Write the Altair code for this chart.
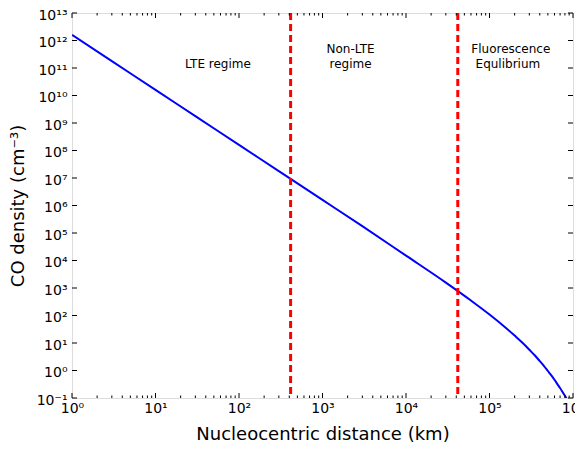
import altair as alt
import pandas as pd

# Data
dist_km = [1, 3, 10, 30, 100, 300, 1000, 3000, 10000, 30000, 60000, 100000,
           150000, 200000, 250000, 300000, 350000, 400000, 450000, 500000,
           550000, 600000, 650000, 700000, 750000, 800000, 840000]
co_density = [1.6e12, 1.78e11, 1.6e10, 1.78e9, 1.6e8, 1.78e7, 1.6e6, 1.77e5,
              1.5e4, 1.57e3, 3.5e2, 1.09e2, 40, 18.6, 10, 5.7, 3.5, 2.2,
              1.45, 0.96, 0.66, 0.46, 0.32, 0.23, 0.165, 0.12, 0.094]
regime_bounds = [415, 41700]
label_x = [56, 2170, 2170, 180000, 166000]
label_y = [1.45e11, 5.0e11, 1.45e11, 5.0e11, 1.45e11]
label_text = ["LTE regime", "Non-LTE", "regime", "Fluorescence", "Equlibrium"]
y_ticks = [10.0 ** e for e in range(-1, 14)]
x_ticks = [10.0 ** e for e in range(0, 7)]
x_minor = [m * 10.0 ** e for e in range(0, 6) for m in range(2, 10)]

W, H = 501, 385
FONT = "DejaVu Sans"

xs = alt.Scale(type="log", domain=[1, 1e6], nice=False)
ys = alt.Scale(type="log", domain=[0.1, 1e13], nice=False)

sup = "['⁻¹','⁰','¹','²','³','⁴','⁵','⁶','⁷','⁸','⁹','¹⁰','¹¹','¹²','¹³']"
lab = "'10' + " + sup + "[round(log(datum.value)/LN10)+1]"

curve = pd.DataFrame({"r": dist_km, "n": co_density})
base_line = alt.Chart(curve).mark_line(color="#0000ff", strokeWidth=2, clip=True, interpolate="monotone").encode(
    x=alt.X("r:Q", scale=xs,
            axis=alt.Axis(values=x_ticks, labelExpr=lab, title="Nucleocentric distance (km)",
                          ticks=False, domain=False, grid=False, labelFont=FONT, labelFontSize=14,
                          labelColor="black", labelPadding=3, titleFont=FONT, titleFontSize=18,
                          titleFontWeight="normal", titleColor="black", titlePadding=10, labelFlush=False)),
    y=alt.Y("n:Q", scale=ys,
            axis=alt.Axis(values=y_ticks, labelExpr=lab, title="CO density (cm⁻³)",
                          ticks=False, domain=False, grid=False, labelFont=FONT, labelFontSize=14,
                          labelColor="black", labelPadding=5, labelOffset=2, titleFont=FONT, titleFontSize=18,
                          titleFontWeight="normal", titleColor="black", titlePadding=9, labelFlush=False)),
)

vlines = alt.Chart(pd.DataFrame({"r": regime_bounds})).mark_rule(
    color="#ff0000", strokeWidth=3, strokeDash=[7, 4]).encode(x=alt.X("r:Q", scale=xs))

texts = alt.Chart(pd.DataFrame({"x": label_x, "y": label_y, "t": label_text})).mark_text(
    font=FONT, fontSize=12, color="black", align="center", baseline="middle").encode(
    x=alt.X("x:Q", scale=xs), y=alt.Y("y:Q", scale=ys), text="t:N")

# inward ticks on all four sides
xmaj = pd.DataFrame({"r": x_ticks})
xmin = pd.DataFrame({"r": x_minor})
ymaj = pd.DataFrame({"n": y_ticks})
tick_layers = []
for df, ln in [(xmaj, 5), (xmin, 2.5)]:
    tick_layers.append(alt.Chart(df).mark_rule(color="black", strokeWidth=1).encode(
        x=alt.X("r:Q", scale=xs), y=alt.value(H), y2=alt.value(H - ln)))
    tick_layers.append(alt.Chart(df).mark_rule(color="black", strokeWidth=1).encode(
        x=alt.X("r:Q", scale=xs), y=alt.value(0), y2=alt.value(ln)))
tick_layers.append(alt.Chart(ymaj).mark_rule(color="black", strokeWidth=1).encode(
    y=alt.Y("n:Q", scale=ys), x=alt.value(0), x2=alt.value(5)))
tick_layers.append(alt.Chart(ymaj).mark_rule(color="black", strokeWidth=1).encode(
    y=alt.Y("n:Q", scale=ys), x=alt.value(W), x2=alt.value(W - 5)))

chart = alt.layer(base_line, vlines, texts, *tick_layers).properties(
    width=W, height=H,
    autosize=alt.AutoSizeParams(type="none"),
    padding={"left": 64, "top": 5, "right": 2, "bottom": 45},
).configure_view(stroke="black", strokeWidth=1.2).configure(background="white")

chart.save("out.html", embed_options={"renderer": "svg", "actions": False})
